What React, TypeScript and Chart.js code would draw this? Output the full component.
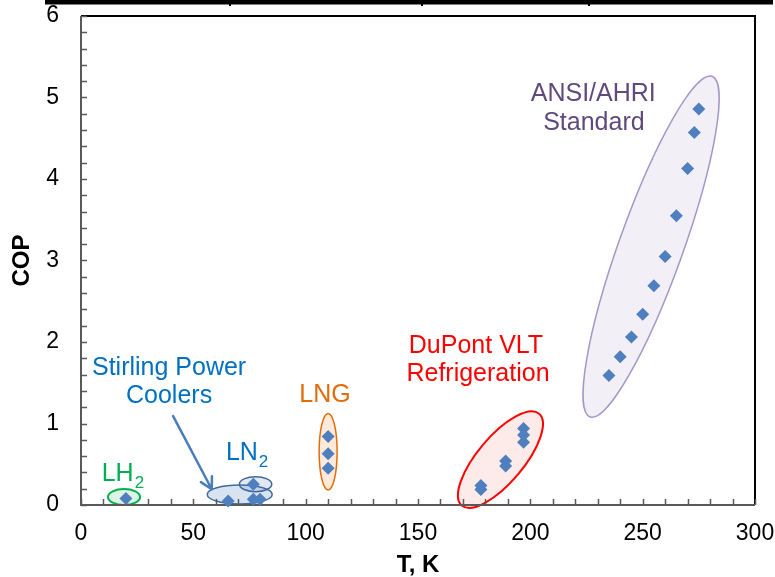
import { useEffect, useRef } from "react";
import { Chart, registerables } from "chart.js";

Chart.register(...registerables);

// Temperature (K) and coefficient of performance for each group of systems
const lh2T = [20];
const lh2Cop = [0.08];
const stirlingT = [65.5];
const stirlingCop = [0.05];
const ln2T = [76.7, 76.7, 79.7];
const ln2Cop = [0.255, 0.07, 0.07];
const lngT = [110, 110, 110];
const lngCop = [0.84, 0.63, 0.45];
const dupontT = [178, 178, 189, 189, 197, 197, 197];
const dupontCop = [0.24, 0.19, 0.54, 0.48, 0.94, 0.86, 0.77];
const ansiT = [235, 240, 245, 250, 255, 260, 265, 270, 273, 275];
const ansiCop = [1.59, 1.82, 2.06, 2.34, 2.69, 3.05, 3.55, 4.13, 4.57, 4.86];

// Axis ticks
const xTickValues = [0, 50, 100, 150, 200, 250, 300];
const yTickValues = [0, 1, 2, 3, 4, 5, 6];

// Group outlines: major axis end points in (T, COP), half-width of the minor axis in px
type Outline = { from: [number, number]; to: [number, number]; half: number; fill: string; stroke: string; lw: number };
const outlines: Outline[] = [
  { from: [226.6, 1.08], to: [280.9, 5.26], half: 32, fill: "#F2EFF6", stroke: "#A597C7", lw: 1.5 },
  { from: [169.5, -0.006], to: [203.9, 1.12], half: 23, fill: "#FDEBEA", stroke: "#FF0000", lw: 2 },
  { from: [110, 0.184], to: [110, 1.124], half: 9, fill: "#FDEADA", stroke: "#E46C0A", lw: 1.5 },
  { from: [12.0, 0.098], to: [26.3, 0.098], half: 8, fill: "#DDF3E4", stroke: "#00B050", lw: 2 },
  { from: [56.2, 0.129], to: [85.1, 0.129], half: 9.5, fill: "rgba(79,129,189,0.22)", stroke: "#41699D", lw: 1.5 },
  { from: [70.5, 0.255], to: [84.9, 0.255], half: 7.5, fill: "rgba(79,129,189,0.18)", stroke: "#41699D", lw: 1.5 },
];

// Group captions: text, anchor (T, COP), colour, alignment
type Caption = { text: string; at: [number, number]; color: string; align: CanvasTextAlign; sub?: string };
const captions: Caption[] = [
  { text: "ANSI/AHRI", at: [228, 4.96], color: "#604A7B", align: "center" },
  { text: "Standard", at: [228.3, 4.6], color: "#604A7B", align: "center" },
  { text: "DuPont VLT", at: [175.8, 1.86], color: "#FF0000", align: "center" },
  { text: "Refrigeration", at: [176.7, 1.52], color: "#FF0000", align: "center" },
  { text: "Stirling Power", at: [39.2, 1.59], color: "#0070C0", align: "center" },
  { text: "Coolers", at: [39.2, 1.255], color: "#0070C0", align: "center" },
  { text: "LNG", at: [108.6, 1.26], color: "#E46C0A", align: "center" },
  { text: "LN", at: [64.5, 0.552], color: "#0070C0", align: "left", sub: "2" },
  { text: "LH", at: [9.2, 0.294], color: "#00B050", align: "left", sub: "2" },
];

// Pointer from the Stirling caption to its outline
const arrowFrom: [number, number] = [41.0, 1.09];
const arrowTo: [number, number] = [58.2, 0.193];

const FONT = '"Liberation Sans", Arial, sans-serif';

const pts = (t: number[], c: number[]) => t.map((v, i) => ({ x: v, y: c[i] }));

const decorations = {
  id: "decorations",
  beforeDatasetsDraw(chart: any) {
    const { ctx, chartArea: a, scales } = chart;
    const x = scales.x;
    const y = scales.y;
    ctx.save();
    // outlines
    for (const o of outlines) {
      const x1 = x.getPixelForValue(o.from[0]);
      const y1 = y.getPixelForValue(o.from[1]);
      const x2 = x.getPixelForValue(o.to[0]);
      const y2 = y.getPixelForValue(o.to[1]);
      const cx = (x1 + x2) / 2;
      const cy = (y1 + y2) / 2;
      const r = Math.hypot(x2 - x1, y2 - y1) / 2;
      const rot = Math.atan2(y2 - y1, x2 - x1);
      ctx.beginPath();
      ctx.ellipse(cx, cy, r, o.half, rot, 0, Math.PI * 2);
      ctx.fillStyle = o.fill;
      ctx.fill();
      ctx.lineWidth = o.lw;
      ctx.strokeStyle = o.stroke;
      ctx.stroke();
    }
    // frame
    ctx.lineWidth = 2;
    ctx.strokeStyle = "#000000";
    ctx.beginPath();
    ctx.moveTo(a.left, a.top);
    ctx.lineTo(a.right, a.top);
    ctx.lineTo(a.right, a.bottom);
    ctx.stroke();
    ctx.strokeStyle = "#595959";
    ctx.beginPath();
    ctx.moveTo(a.left, a.top);
    ctx.lineTo(a.left, a.bottom);
    ctx.lineTo(a.right, a.bottom);
    ctx.stroke();
    // inward minor ticks
    ctx.lineWidth = 1.5;
    for (let v = 0; v <= 6.0001; v += 0.2) {
      const py = Math.round(y.getPixelForValue(v)) + 0.5;
      ctx.beginPath();
      ctx.moveTo(a.left, py);
      ctx.lineTo(a.left + 6, py);
      ctx.stroke();
    }
    for (let v = 0; v <= 300; v += 10) {
      const px = Math.round(x.getPixelForValue(v)) + 0.5;
      ctx.beginPath();
      ctx.moveTo(px, a.bottom);
      ctx.lineTo(px, a.bottom - 6);
      ctx.stroke();
    }
    ctx.restore();
  },
  afterDatasetsDraw(chart: any) {
    const { ctx, scales } = chart;
    const x = scales.x;
    const y = scales.y;
    ctx.save();
    ctx.textBaseline = "alphabetic";
    for (const c of captions) {
      const px = x.getPixelForValue(c.at[0]);
      const py = y.getPixelForValue(c.at[1]);
      ctx.font = `25px ${FONT}`;
      ctx.fillStyle = c.color;
      ctx.textAlign = c.align;
      ctx.fillText(c.text, px, py);
      if (c.sub) {
        const w = ctx.measureText(c.text).width;
        ctx.font = `17px ${FONT}`;
        ctx.textAlign = "left";
        ctx.fillText(c.sub, px + w + 1, py + 7);
      }
    }
    // arrow
    const ax1 = x.getPixelForValue(arrowFrom[0]);
    const ay1 = y.getPixelForValue(arrowFrom[1]);
    const ax2 = x.getPixelForValue(arrowTo[0]);
    const ay2 = y.getPixelForValue(arrowTo[1]);
    const ang = Math.atan2(ay2 - ay1, ax2 - ax1);
    ctx.strokeStyle = "#4A7EBB";
    ctx.lineWidth = 2.5;
    ctx.lineCap = "round";
    ctx.beginPath();
    ctx.moveTo(ax1, ay1);
    ctx.lineTo(ax2, ay2);
    for (const d of [-0.5, 0.5]) {
      ctx.moveTo(ax2, ay2);
      ctx.lineTo(ax2 - 13 * Math.cos(ang + d), ay2 - 13 * Math.sin(ang + d));
    }
    ctx.stroke();
    ctx.restore();
  },
  afterDraw(chart: any) {
    // bottom edge of the panel above
    const { ctx } = chart;
    ctx.save();
    ctx.fillStyle = "#000000";
    ctx.fillRect(45, 0, 728, 4.5);
    for (const tx of [230, 422, 589]) ctx.fillRect(tx - 1, 0, 2, 6);
    ctx.restore();
  },
};

export default function App() {
  const canvasRef = useRef<HTMLCanvasElement | null>(null);

  useEffect(() => {
    document.body.style.margin = "0";
    const canvas = canvasRef.current;
    if (!canvas) return;
    const blue = "#4F7FBE";
    const mk = (label: string, t: number[], c: number[]) => ({
      label,
      data: pts(t, c),
      pointStyle: "rectRot" as const,
      pointRadius: 6.5,
      pointHoverRadius: 6.5,
      pointBackgroundColor: blue,
      pointBorderWidth: 0,
      borderWidth: 0,
      showLine: false,
      clip: false as const,
    });
    const chart = new Chart(canvas, {
      type: "scatter",
      data: {
        datasets: [
          mk("LH2", lh2T, lh2Cop),
          mk("Stirling Power Coolers", stirlingT, stirlingCop),
          mk("LN2", ln2T, ln2Cop),
          mk("LNG", lngT, lngCop),
          mk("DuPont VLT Refrigeration", dupontT, dupontCop),
          mk("ANSI/AHRI Standard", ansiT, ansiCop),
        ],
      },
      options: {
        animation: false,
        responsive: false,
        devicePixelRatio: 1,
        layout: { padding: { top: 16, right: 20, left: 0, bottom: 0 } },
        plugins: { legend: { display: false }, tooltip: { enabled: false } },
        scales: {
          x: {
            type: "linear",
            min: 0,
            max: 300,
            grid: { display: false, drawTicks: false },
            border: { display: false },
            afterBuildTicks: (s: any) => {
              s.ticks = xTickValues.map((v) => ({ value: v }));
            },
            afterFit: (s: any) => {
              s.height = 72;
              s.paddingLeft = 0;
              s.paddingRight = 0;
              s.paddingTop = 0;
              s.paddingBottom = 0;
            },
            ticks: {
              padding: 15,
              color: "#000000",
              font: { family: FONT, size: 23 },
              maxRotation: 0,
            },
            title: {
              display: true,
              text: "T, K",
              color: "#000000",
              font: { family: FONT, size: 24, weight: "bold", lineHeight: 1 },
              padding: { top: 0, bottom: 0 },
            },
          },
          y: {
            type: "linear",
            min: 0,
            max: 6,
            grid: { display: false, drawTicks: false },
            border: { display: false },
            afterBuildTicks: (s: any) => {
              s.ticks = yTickValues.map((v) => ({ value: v }));
            },
            afterFit: (s: any) => {
              s.width = 81;
              s.paddingLeft = 0;
              s.paddingRight = 0;
              s.paddingTop = 0;
              s.paddingBottom = 0;
            },
            ticks: {
              padding: 22,
              color: "#000000",
              font: { family: FONT, size: 23 },
            },
            title: {
              display: true,
              text: "COP",
              color: "#000000",
              font: { family: FONT, size: 24, weight: "bold", lineHeight: 1 },
              padding: { top: 10, bottom: 0 },
            },
          },
        },
      },
      plugins: [decorations],
    });
    return () => chart.destroy();
  }, []);

  return (
    <div style={{ position: "absolute", left: 0, top: 0, width: 775, height: 577, background: "#ffffff" }}>
      <canvas ref={canvasRef} width={775} height={577} />
    </div>
  );
}
